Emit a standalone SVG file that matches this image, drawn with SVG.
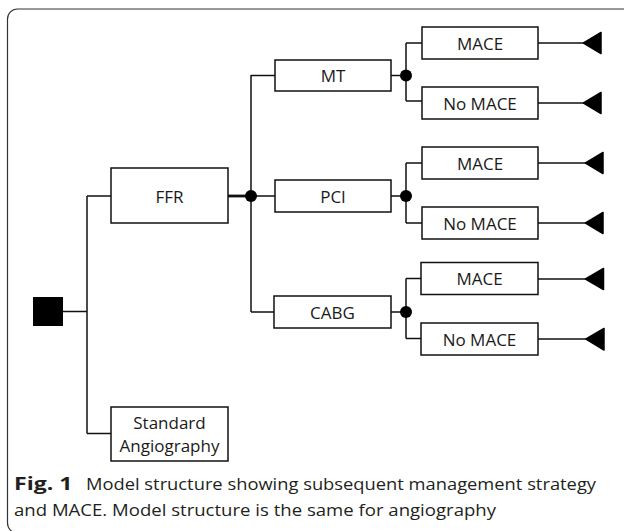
<svg xmlns="http://www.w3.org/2000/svg" width="624" height="531" viewBox="0 0 624 531">
<defs>
<style>
.box{fill:#fff;stroke:#111;stroke-width:1.5}
.lbl{font-family:"Open Sans","Noto Sans",sans-serif;font-size:17px;fill:#1a1a1a;text-anchor:middle}
.ln{stroke:#111;stroke-width:1.5;fill:none}
.term{fill:#000;stroke:#000;stroke-width:1.5;stroke-linejoin:round}
.cap{font-family:"Open Sans","Noto Sans",sans-serif;font-size:17px;fill:#231f20}
</style>
</defs>
<rect width="624" height="531" fill="#fff"/>
<rect x="7.5" y="9" width="640" height="524" rx="10" ry="10" fill="none" stroke="#333" stroke-width="1.2"/>

<g id="connectors">
  <path class="ln" d="M63 311.5H87M87 196V433.5M87 196H111M87 433.5H111"/>
  <path d="M228 196H251" stroke="#111" stroke-width="2.8"/>
  <path class="ln" d="M251 75V312M251 75.5H275M251 196H275M251 312H274"/>
  <path class="ln" d="M391 75.5H406M406 43V101M406 43H422M406 101H422"/>
  <path class="ln" d="M391 196H406M406 163V223M406 163H422M406 223H422"/>
  <path class="ln" d="M391 312H406M406 278.5V338.5M406 278.5H422M406 338.5H422"/>
  <path class="ln" d="M538 43H584M538 103H584M538 163H586M538 223H586M538 279H586M538 339H586"/>
  <circle cx="251" cy="196" r="6" fill="#000"/>
  <circle cx="406" cy="75.5" r="6" fill="#000"/>
  <circle cx="406" cy="196" r="6" fill="#000"/>
  <circle cx="406" cy="312" r="6" fill="#000"/>
</g>

<g id="decision">
  <rect x="33" y="297" width="30" height="29" fill="#000"/>
</g>

<g id="ffr">
  <rect class="box" x="111" y="168" width="117" height="55"/>
  <text class="lbl" x="169.5" y="202.5">FFR</text>
</g>
<g id="standard">
  <rect class="box" x="111" y="407" width="117" height="54"/>
  <text class="lbl" x="169.5" y="429">Standard</text>
  <text class="lbl" x="169.5" y="452">Angiography</text>
</g>

<g id="mt">
  <rect class="box" x="275" y="60" width="116" height="31"/>
  <text class="lbl" x="333" y="82">MT</text>
</g>
<g id="pci">
  <rect class="box" x="275" y="180" width="116" height="32"/>
  <text class="lbl" x="333" y="202.5">PCI</text>
</g>
<g id="cabg">
  <rect class="box" x="274" y="296" width="117" height="32"/>
  <text class="lbl" x="332.5" y="318.5">CABG</text>
</g>

<g id="mt-mace">
  <rect class="box" x="422" y="27" width="116" height="32"/>
  <text class="lbl" x="480" y="49.5">MACE</text>
</g>
<g id="mt-nomace">
  <rect class="box" x="422" y="87" width="116" height="32"/>
  <text class="lbl" x="480" y="109.5">No MACE</text>
</g>
<g id="pci-mace">
  <rect class="box" x="422" y="147" width="116" height="32"/>
  <text class="lbl" x="480" y="169.5">MACE</text>
</g>
<g id="pci-nomace">
  <rect class="box" x="422" y="207" width="116" height="32"/>
  <text class="lbl" x="480" y="229.5">No MACE</text>
</g>
<g id="cabg-mace">
  <rect class="box" x="421" y="262.5" width="117" height="32"/>
  <text class="lbl" x="479.5" y="285">MACE</text>
</g>
<g id="cabg-nomace">
  <rect class="box" x="421" y="323" width="117" height="32"/>
  <text class="lbl" x="479.5" y="345.5">No MACE</text>
</g>

<g id="terminals">
  <polygon class="term" points="583.5,43 601,32.5 601,53.5"/>
  <polygon class="term" points="583.5,103 601,92.5 601,113.5"/>
  <polygon class="term" points="585.5,163 603,152.5 603,173.5"/>
  <polygon class="term" points="585.5,223 603,212.5 603,233.5"/>
  <polygon class="term" points="585.5,279 603.5,268.5 603.5,289.5"/>
  <polygon class="term" points="586,339 604,328.5 604,350"/>
</g>

<g id="caption">
  <text class="cap" x="14" y="489.5" font-weight="bold" textLength="58.5" lengthAdjust="spacingAndGlyphs">Fig. 1</text>
  <text class="cap" x="86" y="489.5" textLength="510" lengthAdjust="spacingAndGlyphs">Model structure showing subsequent management strategy</text>
  <text class="cap" x="14" y="516" textLength="482" lengthAdjust="spacingAndGlyphs">and MACE. Model structure is the same for angiography</text>
</g>
</svg>
